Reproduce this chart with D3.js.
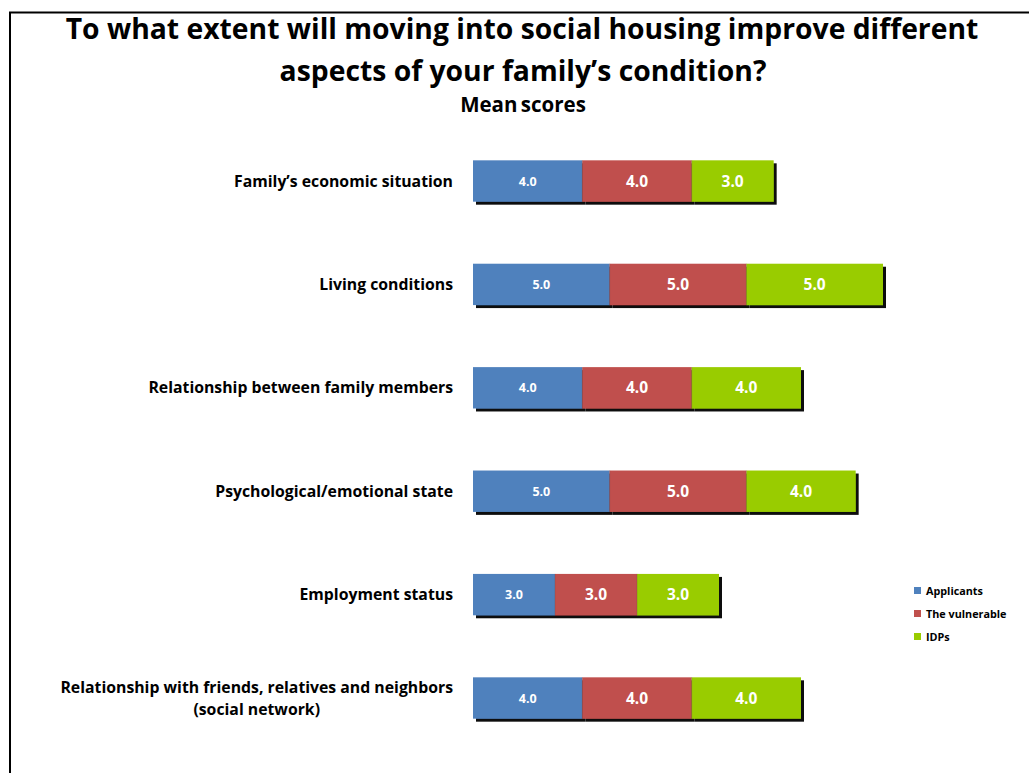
<!DOCTYPE html>
<html>
<head>
<meta charset="utf-8">
<script src="https://cdnjs.cloudflare.com/ajax/libs/d3/7.8.5/d3.min.js"></script>
<style>
  html, body { margin: 0; padding: 0; background: #fff; }
  svg { display: block; }
  text { font-family: "Open Sans", Lato, sans-serif; font-weight: bold; }
</style>
</head>
<body>
<svg id="chart" width="1029" height="773"></svg>
<script>
// Survey items (labels may break over several lines)
const categories = [
  ["Family\u2019s economic situation"],
  ["Living conditions"],
  ["Relationship between family members"],
  ["Psychological/emotional state"],
  ["Employment status"],
  ["Relationship with friends, relatives and neighbors", "(social network)"]
];
const seriesNames = ["Applicants", "The vulnerable", "IDPs"];
const applicants = [4.0, 5.0, 4.0, 5.0, 3.0, 4.0];
const vulnerable = [4.0, 5.0, 4.0, 5.0, 3.0, 4.0];
const idps       = [3.0, 5.0, 4.0, 4.0, 3.0, 4.0];
const seriesColors = ["#4F81BD", "#C0504D", "#99CC00"];

const svg = d3.select("#chart");

// Frame
svg.append("path")
  .attr("d", "M10,773 L10,12.5 L1029,12.5")
  .attr("fill", "none").attr("stroke", "#000").attr("stroke-width", 2);

// Titles
svg.append("text").attr("x", 522).attr("y", 39).attr("text-anchor", "middle")
  .style("font-size", "28.3px").text("To what extent will moving into social housing improve different");
svg.append("text").attr("x", 523).attr("y", 81).attr("text-anchor", "middle")
  .style("font-size", "28.3px").text("aspects of your family\u2019s condition?");
svg.append("text").attr("x", 523).attr("y", 112).attr("text-anchor", "middle")
  .style("font-size", "20.5px").style("word-spacing", "-2px").text("Mean scores");

// Shadow filter for the bars
const defs = svg.append("defs");
const f = defs.append("filter").attr("id", "shadow")
  .attr("x", "-5%").attr("y", "-20%").attr("width", "120%").attr("height", "150%");
f.append("feOffset").attr("in", "SourceAlpha").attr("dx", 3).attr("dy", 3).attr("result", "off");
f.append("feGaussianBlur").attr("in", "off").attr("stdDeviation", 0.7).attr("result", "blur");
f.append("feComponentTransfer").attr("in", "blur").attr("result", "dark")
  .append("feFuncA").attr("type", "linear").attr("slope", 0.95);
const merge = f.append("feMerge");
merge.append("feMergeNode").attr("in", "dark");
merge.append("feMergeNode").attr("in", "SourceGraphic");

// Scales
const x = d3.scaleLinear().domain([0, 15]).range([473, 883]);
const y = d3.scaleBand().domain(d3.range(categories.length))
  .range([129.3, 749.7]).paddingInner(0.6).paddingOuter(0.3);

// Stack the three series
const table = categories.map((c, i) => ({
  idx: i, s0: applicants[i], s1: vulnerable[i], s2: idps[i]
}));
const stack = d3.stack().keys(["s0", "s1", "s2"])(table);

const rows = svg.append("g");
categories.forEach((c, i) => {
  const g = rows.append("g").attr("filter", "url(#shadow)");
  stack.forEach((layer, k) => {
    const d = layer[i];
    g.append("rect")
      .attr("x", x(d[0])).attr("y", y(i))
      .attr("width", x(d[1]) - x(d[0])).attr("height", y.bandwidth())
      .attr("fill", seriesColors[k]);
  });
});

// Thin dividers between segments
stack.slice(1).forEach(layer => {
  layer.forEach((d, i) => {
    svg.append("line")
      .attr("x1", x(d[0])).attr("x2", x(d[0]))
      .attr("y1", y(i)).attr("y2", y(i) + y.bandwidth())
      .attr("stroke", "#7a4a48").attr("stroke-opacity", 0.35).attr("stroke-width", 1);
  });
});

// Value labels
stack.forEach((layer, k) => {
  layer.forEach((d, i) => {
    svg.append("text")
      .attr("x", (x(d[0]) + x(d[1])) / 2)
      .attr("y", y(i) + y.bandwidth() / 2)
      .attr("dy", "0.36em")
      .attr("text-anchor", "middle")
      .attr("fill", "#fff")
      .style("font-size", k === 0 ? "12.5px" : "15.5px")
      .text(d3.format(".1f")(d[1] - d[0]));
  });
});

// Category labels (right-aligned block, multi-line lines centred within block)
categories.forEach((lines, i) => {
  const cy = y(i) + y.bandwidth() / 2;
  const lh = 22;
  const t = svg.append("text").style("font-size", "15.8px").attr("fill", "#000");
  const spans = lines.map((ln, j) => t.append("tspan")
    .attr("y", cy + (j - (lines.length - 1) / 2) * lh)
    .attr("dy", "0.35em").text(ln));
  const widths = spans.map(s => s.node().getComputedTextLength());
  const maxW = d3.max(widths);
  const right = 453;
  spans.forEach((s, j) => s.attr("x", right - maxW / 2).attr("text-anchor", "middle"));
});

// Legend
const legend = svg.append("g");
seriesNames.forEach((n, k) => {
  const ly = 591 + k * 23;
  legend.append("rect").attr("x", 914).attr("y", ly - 4).attr("width", 7).attr("height", 7)
    .attr("fill", seriesColors[k]);
  legend.append("text").attr("x", 926).attr("y", ly).attr("dy", "0.35em")
    .style("font-size", "10.8px").text(n);
});
</script>
</body>
</html>
